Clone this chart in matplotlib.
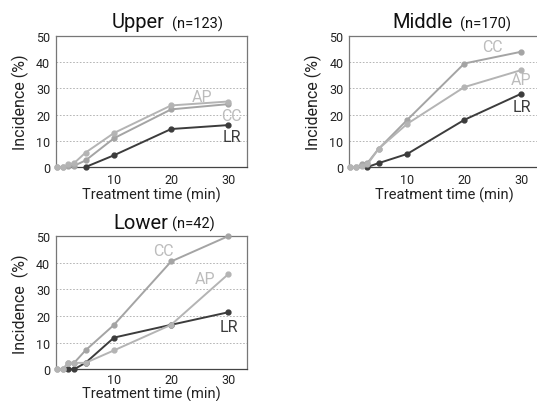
import matplotlib
matplotlib.use("Agg")
import matplotlib.pyplot as plt

plt.rcParams['font.family'] = ['Roboto', 'DejaVu Sans']

# treatment times (min)
t_all = [0, 1, 2, 3, 5, 10, 20, 30]

# Upper (n=123)
up_ap = [0, 0, 1.0, 1.5, 5.5, 13.0, 23.5, 25.0]
up_cc = [0, 0, 0.5, 0.5, 2.5, 11.0, 22.0, 24.0]
up_lr_t = [5, 10, 20, 30]
up_lr = [0, 4.5, 14.5, 16.0]

# Middle (n=170)
mid_cc = [0, 0, 1.0, 1.5, 7.0, 18.0, 39.5, 44.0]
mid_ap = [0, 0, 0.5, 1.0, 7.0, 16.5, 30.5, 37.0]
mid_lr_t = [3, 5, 10, 20, 30]
mid_lr = [0, 1.5, 5.0, 18.0, 28.0]

# Lower (n=42)
low_cc = [0, 0, 2.4, 2.4, 7.1, 16.7, 40.5, 50.0]
low_ap = [0, 0, 2.4, 2.4, 2.4, 7.1, 16.7, 35.7]
low_lr_t = [2, 3, 5, 10, 20, 30]
low_lr = [0, 0, 2.4, 11.9, 16.7, 21.4]

c_ap = '#b4b4b4'
c_cc = '#a4a4a4'
c_lr = '#3c3c3c'

fig = plt.figure(figsize=(5.37, 4.02), dpi=100)


def panel(rect, name, n, ap, cc, lr_t, lr, labels, ylabel, tx, xpad=1, tpad=4):
    ax = fig.add_axes(rect)
    ax.plot(lr_t, lr, '-o', color=c_lr, lw=1.4, ms=3.5, clip_on=False, zorder=3)
    ax.plot(t_all, cc, '-o', color=c_cc, lw=1.4, ms=3.5, clip_on=False, zorder=4)
    ax.plot(t_all, ap, '-o', color=c_ap, lw=1.4, ms=3.5, clip_on=False, zorder=4)
    ax.set_xlim(-0.2, 33.3)
    ax.set_ylim(0, 50)
    ax.set_xticks([10, 20, 30])
    ax.set_yticks([0, 10, 20, 30, 40, 50])
    ax.tick_params(length=0, labelsize=9, colors='#222222', pad=4)
    ax.tick_params(axis='x', pad=tpad)
    for y in [10, 20, 30, 40]:
        ax.axhline(y, color='#aaaaaa', lw=0.6, ls=(0, (2, 2)), zorder=1)
    for s in ax.spines.values():
        s.set_color('#777777')
        s.set_linewidth(0.9)
    ax.spines['bottom'].set_color('#444444')
    ax.set_xlabel('Treatment time (min)', fontsize=10.5, color='#222222', labelpad=xpad)
    ax.set_ylabel(ylabel, fontsize=11.5, color='#222222', labelpad=5)
    for txt, x, y, col in labels:
        ax.text(x, y, txt, fontsize=11.5, color=col, ha='center', va='center')
    ax.text(tx[0], 1.065, name, transform=ax.transAxes, fontsize=14.5,
            ha='right', va='baseline', color='#111111')
    ax.text(tx[1], 1.065, '(n=%d)' % n, transform=ax.transAxes, fontsize=10.5,
            ha='left', va='baseline', color='#111111')
    return ax


panel([0.104, 0.582, 0.356, 0.326], 'Upper', 123, up_ap, up_cc, up_lr_t, up_lr,
      [('AP', 25.4, 27.0, '#bcbcbc'), ('CC', 30.6, 19.5, '#bcbcbc'),
       ('LR', 30.6, 11.5, c_lr)],
      'Incidence (%)', (0.57, 0.61))

panel([0.650, 0.582, 0.356, 0.326], 'Middle', 170, mid_ap, mid_cc, mid_lr_t, mid_lr,
      [('CC', 25.0, 46.0, '#bcbcbc'), ('AP', 30.0, 33.5, '#bcbcbc'),
       ('LR', 30.0, 23.0, c_lr)],
      'Incidence (%)', (0.545, 0.58))

panel([0.104, 0.079, 0.356, 0.331], 'Lower', 42, low_ap, low_cc, low_lr_t, low_lr,
      [('CC', 18.6, 44.5, '#bcbcbc'), ('AP', 26.0, 34.0, '#bcbcbc'),
       ('LR', 30.2, 16.0, c_lr)],
      'Incidence  (%)', (0.586, 0.607), xpad=0, tpad=2.5)

fig.savefig('out.png', dpi=100)
